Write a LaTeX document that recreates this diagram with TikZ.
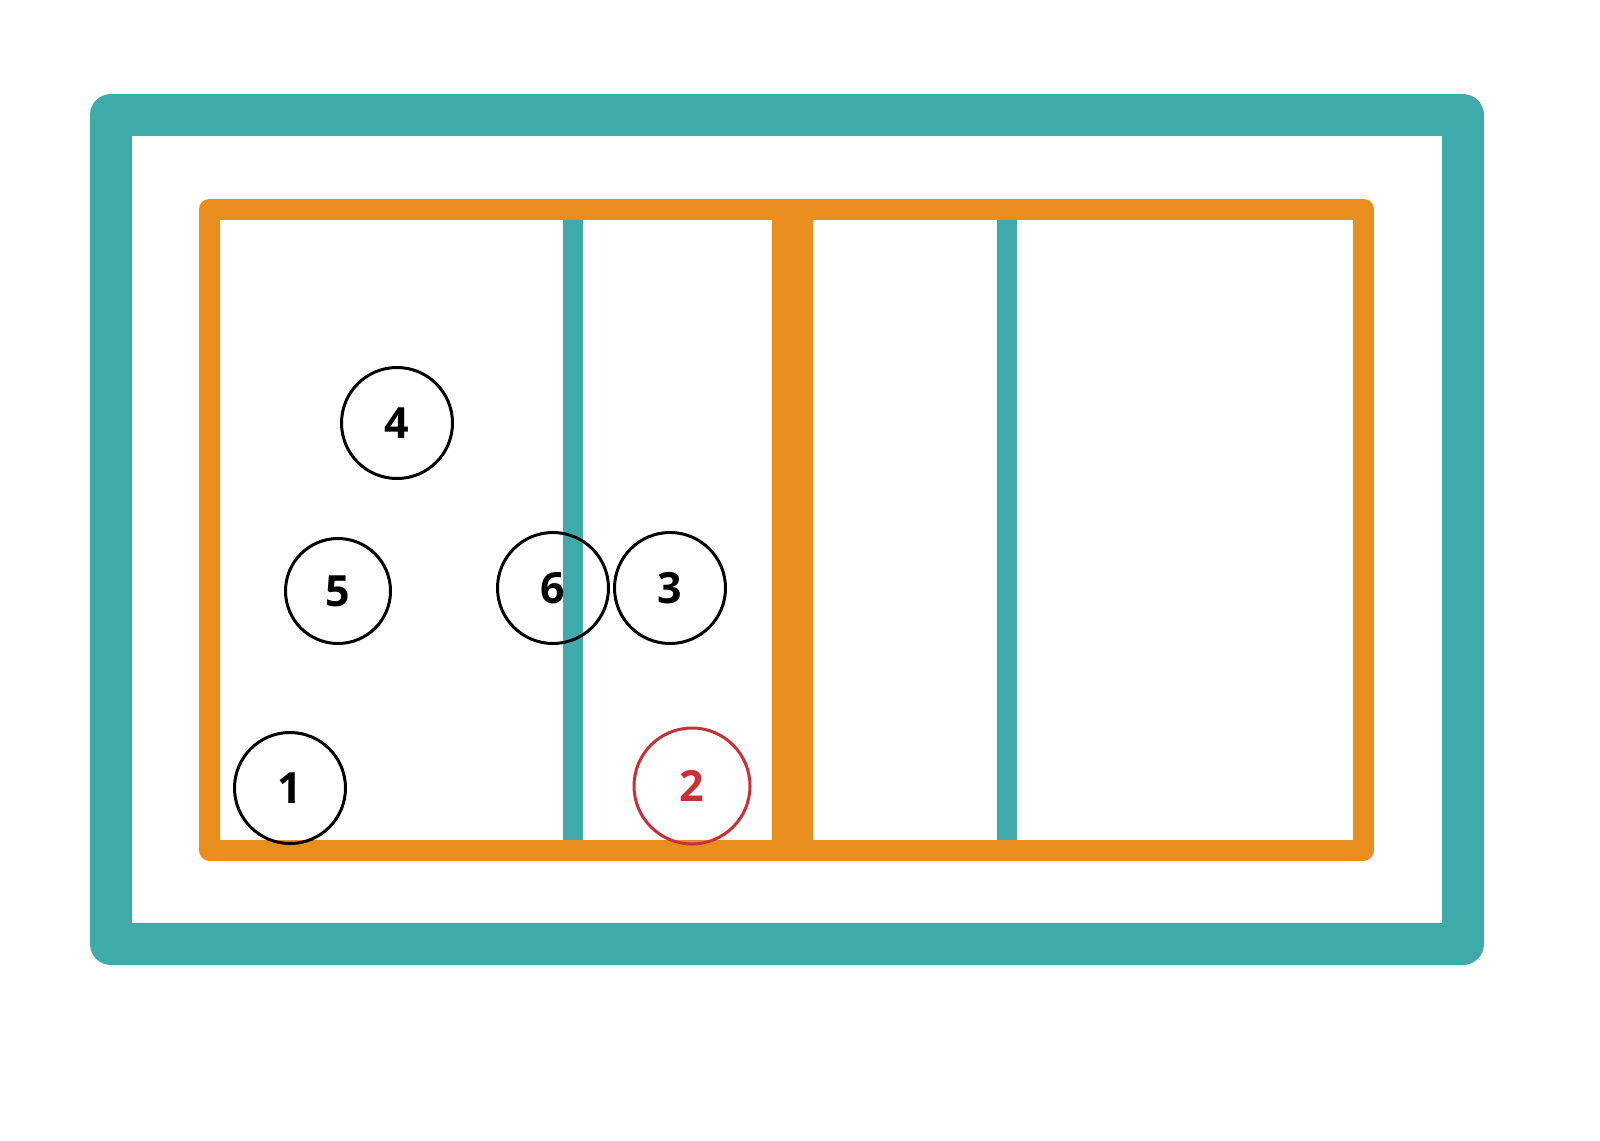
\documentclass[tikz,border=0pt]{standalone}
\usepackage{fontspec}
\newfontfamily\numfont{Open Sans}
\definecolor{teal1}{RGB}{62,170,169}
\definecolor{orange1}{RGB}{233,142,29}
\definecolor{red1}{RGB}{200,48,56}
\begin{document}
\begin{tikzpicture}[x=1pt,y=-1pt,
  player/.style={circle,draw=black,line width=3pt,minimum size=111pt,inner sep=0pt,font=\numfont\bfseries\fontsize{43}{43}\selectfont,text=black},
  server/.style={player,draw=red1,text=red1},
  tealline/.style={draw=teal1,line width=20pt},
  orangeline/.style={draw=orange1,line width=21pt,line join=round}]
\useasboundingbox (0,0) rectangle (1600,1140);
\fill[white] (0,0) rectangle (1600,1140);
% outer teal frame
\draw[draw=teal1,line width=42pt,line join=round] (111,115) rectangle (1463,944);
% attack lines
\coordinate (a1t) at (573,215); \coordinate (a1b) at (573,845);
\coordinate (a2t) at (1007,215); \coordinate (a2b) at (1007,845);
\draw[tealline] (a1t) -- (a1b);
\draw[tealline] (a2t) -- (a2b);
% court
\draw[orangeline] (209.5,209) rectangle (1363.5,850);
\coordinate (nt) at (792.5,209); \coordinate (nb) at (792.5,850);
\draw[draw=orange1,line width=41pt] (nt) -- (nb);
% players
\node[player] (p4) at (397,423) {4};
\node[player,minimum size=105pt] (p5) at (338,591) {5};
\node[player] (p6) at (553,588) {6};
\node[player] (p3) at (670,588) {3};
\node[player] (p1) at (290,788) {1};
\node[server,minimum size=116pt] (p2) at (692,786) {2};
\end{tikzpicture}
\end{document}
